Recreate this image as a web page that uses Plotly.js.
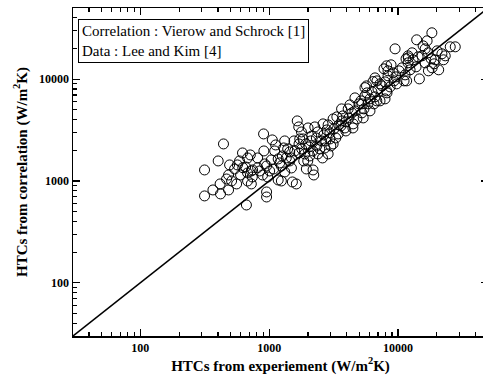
<!DOCTYPE html>
<html>
<head>
<meta charset="utf-8">
<script src="https://cdn.plot.ly/plotly-3.0.1.min.js"></script>
<style>
html,body{margin:0;padding:0;overflow:hidden;background:#fff;}
#chart{width:488px;height:379px;}
</style>
</head>
<body>
<div id="chart"></div>
<script>
// HTCs from experiment (W/m2K)
const expHTC = [
315,315,366,402,442,416,419,484,493,484,511,567,559,600,621,656,680,714,666,727,744,740,814,843,889,905,910,955,955,955,
539,467,680,589,1040,1058,1084,1123,1175,1175,1244,1244,1266,1296,1320,1358,1444,1489,1515,1559,1625,1652,1697,1705,1705,
1782,1832,1890,1944,2005,2040,2067,2191,2220,2261,2325,2387,2594,2550,2621,2869,2869,2959,3137,3137,3432,3650,3873,4106,
4489,4633,5371,5543,5700,6633,7254,8161,8161,9496,9765,12040,13970,16260,18330,25460,27850,20710,17240,14660,22560,19450,21940,
1790,1923,2104,2181,2342,2473,1856,1994,2141,2385,1728,2656,2752,2959,3178,3293,3477,3012,2802,3353,3667,2705,
3735,3940,4160,4387,4633,4798,4235,3940,4976,3604,4468,5158,5442,5847,6063,6281,6633,6997,6063,5741,6869,5249,6512,
7515,7936,8371,8680,9157,9661,10200,7791,8836,9322,8219,10750,11360,11980,12420,13100,13820,14330,11150,12870,11550,
15390,16260,17150,18100,19100,20140,15680,16840,18420,23280,6396,5543,7254,6851,7936,5249,11680,11980,8371,
1104,1207,1393,1444,1580,1320,1009,974,624,727,680,922,814,1489
];
// HTCs from correlation (W/m2K)
const corrHTC = [
1283,713,816,1573,2311,935,746,1145,1437,816,1000,1437,935,1145,1885,1373,1683,1801,581,935,1283,1094,1683,1254,1145,2897,1972,1404,780,696,
1312,1046,1199,1573,1609,2530,1312,2258,1645,1023,1000,1404,1761,2110,2473,1683,1928,1342,978,2473,935,3890,3395,2311,1885,
3030,2587,1843,1312,3317,2159,1761,1283,1145,3395,2646,1843,1683,2473,3636,1843,3553,2964,2311,4069,2897,5104,3317,5104,
3636,6548,4162,6854,8589,10290,6120,13520,7670,19850,8991,16200,24350,19850,28540,20780,20780,12350,12070,10060,15490,15490,17740,
2063,2311,2473,1972,2209,2063,1573,1573,2768,3030,2587,2831,2473,2587,3243,2646,3553,2209,3171,4260,3890,2110,
4357,3803,4162,4665,4880,4069,5589,3100,5720,3473,3317,6120,5104,5720,6402,7498,6701,8023,4880,7333,9620,4665,5720,
8589,9404,10780,8394,11540,10530,12070,12630,13830,9620,7333,12920,11020,14470,12350,15490,13210,16560,9620,18150,15840,
16950,14470,18150,15840,14150,18980,21250,23800,12920,16950,9460,8258,8991,6120,6402,5720,9620,16950,12070,
1972,1504,2063,1573,1972,1226,1254,1094,1350,1254,1000,1470,1348,1683
];
// y = x reference line
const lineX = [30, 50000];
const lineY = [30, 50000];
const tickVals = [100, 1000, 10000];
const tickText = ['100', '1000', '10000'];
const xTitle = 'HTCs from experiement (W/m<sup>2</sup>K)';
const yTitle = 'HTCs from correlation (W/m<sup>2</sup>K)';
const legendLines = ['Correlation : Vierow and Schrock [1]', 'Data : Lee and Kim [4]'];

const serif = 'Liberation Serif';
const traces = [
  {x: lineX, y: lineY, mode: 'lines', line: {color: '#000', width: 1.5}, hoverinfo: 'skip'},
  {x: expHTC, y: corrHTC, mode: 'markers', type: 'scatter',
   marker: {symbol: 'circle-open', size: 10, color: '#000', line: {width: 1, color: '#000'}}}
];
function axis(title) {
  return {
    type: 'log',
    range: [Math.log10(30), Math.log10(50000)],
    tickmode: 'array',
    tickvals: tickVals,
    ticktext: tickText.map(t => '<b>' + t + '</b>'),
    ticks: 'inside', ticklen: 7, tickwidth: 1.2, tickcolor: '#000',
    minor: {ticks: 'inside', ticklen: 4, tickwidth: 1.2, tickcolor: '#000', dtick: 'D1', showgrid: false},
    showline: true, linecolor: '#000', linewidth: 1.5, mirror: 'allticks',
    showgrid: false, zeroline: false,
    tickfont: {family: serif, size: 12, color: '#000'},
    title: {text: '<b>' + title + '</b>', font: {family: serif, size: 15, color: '#000'}},
    fixedrange: true
  };
}
const xa = axis(xTitle); xa.title.standoff = 6;
const ya = axis(yTitle); ya.title.standoff = 8;
const layout = {
  width: 488, height: 379,
  margin: {l: 73, r: 0, t: 8, b: 43},
  font: {family: serif, color: '#000'},
  paper_bgcolor: '#fff', plot_bgcolor: '#fff',
  showlegend: false,
  xaxis: xa, yaxis: ya,
  annotations: [{
    xref: 'paper', yref: 'paper', x: 0.013, y: 0.965, xanchor: 'left', yanchor: 'top',
    text: legendLines.join('<br>'), align: 'left', showarrow: false,
    font: {family: serif, size: 15, color: '#000'},
    bordercolor: '#000', borderwidth: 1, borderpad: 3, bgcolor: '#fff'
  }]
};
Plotly.newPlot('chart', traces, layout, {staticPlot: true, displayModeBar: false});
</script>
</body>
</html>
